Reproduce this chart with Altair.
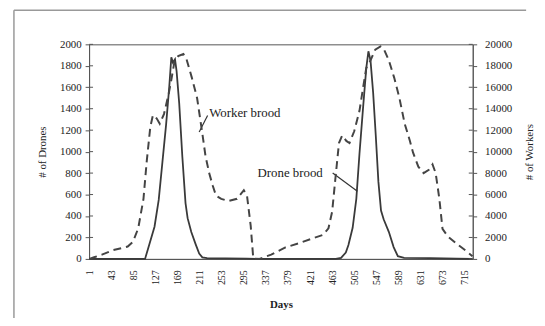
import altair as alt
import pandas as pd

# ---- data ----
drone_days = [1, 100, 107, 113, 125, 133, 140, 147, 153, 157, 160, 164, 167, 172, 178, 184, 188,
              195, 203, 210, 216, 225, 260, 300, 330, 470, 480, 489, 494, 502, 509, 515, 522,
              528, 532, 536, 541, 546, 551, 556, 561, 571, 580, 588, 600, 650, 700, 730]
drone_values = [0, 0, 0, 100, 300, 550, 900, 1250, 1600, 1880, 1830, 1860, 1750, 1450, 950, 520, 380,
                250, 140, 50, 15, 8, 6, 3, 0, 0, 10, 60, 130, 290, 560, 980, 1420,
                1780, 1935, 1850, 1550, 1150, 720, 450, 370, 250, 110, 25, 10, 8, 3, 0]

worker_days = [1, 10, 25, 45, 74, 84, 94, 104, 110, 117, 122, 129, 135, 143, 152, 157, 163, 170,
               180, 186, 196, 206, 216, 222, 229, 236, 242, 252, 265, 282, 295, 301, 308, 313,
               325, 347, 374, 400, 423, 446, 456, 463, 469, 476, 482, 490, 496, 505, 515, 522,
               528, 535, 545, 555, 561, 571, 581, 591, 601, 611, 617, 627, 637, 647, 654, 660,
               667, 673, 683, 703, 719, 730]
worker_values = [0, 150, 400, 800, 1150, 1600, 2850, 5600, 9000, 12300, 13400, 13100, 12600, 13500,
                 15400, 16700, 18400, 18900, 19100, 18600, 16900, 15000, 11700, 9600, 8000, 6800,
                 5900, 5600, 5400, 5600, 6400, 5900, 3100, 0, 0, 400, 1070, 1470, 1860, 2250,
                 2850, 4400, 7400, 10800, 11500, 11000, 10800, 11900, 13800, 16000, 17800, 18400,
                 19500, 19800, 19600, 18500, 16900, 15000, 12600, 11000, 9900, 8600, 8000, 8300,
                 8800, 8000, 5600, 2800, 2100, 1300, 700, 250]

x_tick_values = [1, 43, 85, 127, 169, 211, 253, 295, 337, 379, 421, 463, 505, 547, 589, 631, 673, 715]
drone_ticks = [0, 200, 400, 600, 800, 1000, 1200, 1400, 1600, 1800, 2000]
worker_ticks = [0, 2000, 4000, 6000, 8000, 10000, 12000, 14000, 16000, 18000, 20000]

ann_labels = ["Worker brood", "Drone brood"]
ann_day = [229, 321]
ann_value = [1358, 803]
ptr_day = [226, 464]
ptr_value = [1336, 800]
ptr_day2 = [210, 511]
ptr_value2 = [1182, 630]

# ---- tables ----
drone_df = pd.DataFrame({"day": drone_days, "drones": drone_values})
worker_df = pd.DataFrame({"day": worker_days, "workers": worker_values})
ann_df = pd.DataFrame({"label": ann_labels, "day": ann_day, "drones": ann_value})
ptr_df = pd.DataFrame({"day": ptr_day, "drones": ptr_value, "day2": ptr_day2, "drones2": ptr_value2})
dtick_df = pd.DataFrame({"drones": drone_ticks})
wtick_df = pd.DataFrame({"workers": worker_ticks})
one = pd.DataFrame({"k": [0]})

FONT = "Liberation Serif"
x_scale = alt.Scale(domain=[0.5, 730.5], nice=False, zero=False)
x_axis = alt.Axis(values=x_tick_values, labelAngle=270, title="Days", titleFontWeight="bold",
                  ticks=False, labelFontSize=10, labelPadding=11, titlePadding=14, format="d",
                  labelOverlap=False)
d_scale = alt.Scale(domain=[0, 2000], nice=False)
d_axis = alt.Axis(values=drone_ticks, title="# of Drones", format="d",
                  tickSize=4, labelPadding=4, titlePadding=12)
w_scale = alt.Scale(domain=[0, 20000], nice=False)
w_axis = alt.Axis(orient="right", values=worker_ticks, title="# of Workers", format="d",
                  tickSize=4, labelPadding=8, titlePadding=12, titleAngle=270,
                  titleBaseline="top")

drone_line = alt.Chart(drone_df).mark_line(color="#3a3a3a", strokeWidth=1.8).encode(
    x=alt.X("day:Q", scale=x_scale, axis=x_axis),
    y=alt.Y("drones:Q", scale=d_scale, axis=d_axis),
)

ann_text = alt.Chart(ann_df).mark_text(align="left", baseline="middle", font=FONT,
                                       fontSize=13, color="#222").encode(
    x=alt.X("day:Q", scale=x_scale, axis=x_axis),
    y=alt.Y("drones:Q", scale=d_scale, axis=d_axis), text="label:N")

ann_rules = alt.Chart(ptr_df).mark_rule(color="#333", strokeWidth=1.2).encode(
    x=alt.X("day:Q", scale=x_scale, axis=x_axis), x2="day2:Q",
    y=alt.Y("drones:Q", scale=d_scale, axis=d_axis), y2="drones2:Q")

# inner halves of the cross-style tick marks
d_inner = alt.Chart(dtick_df).mark_rule(color="#555", strokeWidth=1).encode(
    x=alt.value(0), x2=alt.value(4), y=alt.Y("drones:Q", scale=d_scale, axis=d_axis))

frame_top = alt.Chart(one).mark_rule(color="#999", strokeWidth=1.5).encode(
    x=alt.value(-76), x2=alt.value(442), y=alt.value(-34.5))
frame_left = alt.Chart(one).mark_rule(color="#999", strokeWidth=1.5).encode(
    x=alt.value(-76), y=alt.value(-34.5), y2=alt.value(320))

worker_line = alt.Chart(worker_df).mark_line(color="#444", strokeWidth=2, strokeDash=[8, 5]).encode(
    x=alt.X("day:Q", scale=x_scale, axis=x_axis),
    y=alt.Y("workers:Q", scale=w_scale, axis=w_axis),
)
w_inner = alt.Chart(wtick_df).mark_rule(color="#555", strokeWidth=1).encode(
    x=alt.value(384), x2=alt.value(388), y=alt.Y("workers:Q", scale=w_scale, axis=w_axis))

left = alt.layer(frame_top, frame_left, d_inner, drone_line, ann_rules, ann_text)
right = alt.layer(w_inner, worker_line)
chart = alt.layer(left, right).resolve_scale(y="independent").properties(
    width=388, height=217,
    autosize=alt.AutoSizeParams(type="none"),
    padding={"left": 82, "top": 35, "right": 65, "bottom": 58},
).configure(font=FONT, background="white").configure_view(
    stroke="#555", strokeWidth=1
).configure_axis(
    domainColor="#555", tickColor="#555", labelColor="#222", titleColor="#222", grid=False,
    labelFont=FONT, titleFont=FONT, labelFontSize=11, titleFontSize=11, titleFontWeight="normal",
)

chart.save("out.html", embed_options={"renderer": "svg", "actions": False})
